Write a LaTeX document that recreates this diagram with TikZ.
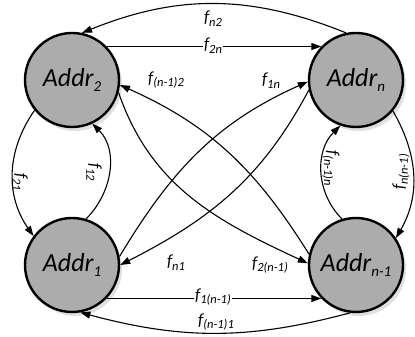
\documentclass[tikz,border=0pt]{standalone}
\usepackage{fontspec}
\setmainfont{Carlito}
\usetikzlibrary{arrows.meta,shadows}
\newcommand\asub[1]{\raisebox{-0.45ex}{\fontsize{15}{15}\selectfont #1}}
\newcommand\lsub[1]{\raisebox{-0.45ex}{\fontsize{12.5}{12.5}\selectfont #1}}
\tikzset{
  addr/.style={circle, draw=black, line width=2.4pt,
    fill={rgb,255:red,172;green,172;blue,172}, minimum size=94pt, inner sep=0pt,
    font=\fontsize{26}{26}\selectfont\itshape,
    drop shadow={shadow xshift=3pt, shadow yshift=-4pt, fill=gray!30, opacity=0.8}},
  conn/.style={line width=1.1pt, -{Triangle[length=10pt,width=7pt]}},
  lbl/.style={font=\fontsize{17}{17}\selectfont\itshape, inner sep=1pt},
  lblw/.style={lbl, fill=white},
}
\begin{document}
\begin{tikzpicture}[x=1pt,y=1pt]
\useasboundingbox[fill=white] (0,0) rectangle (415,337);
\node[addr] (A2) at (72,257) {Addr\asub{2}};
\node[addr] (An) at (356,257) {Addr\asub{n}};
\node[addr] (A1) at (72,72) {Addr\asub{1}};
\node[addr] (Am) at (356,72) {Addr\asub{n-1}};
% top / bottom
\draw[conn] (An.102) to[out=158,in=22] (A2.78);
\draw[conn] (A2.44) -- (An.136);
\draw[conn] (A1.-44) -- (Am.-136);
\draw[conn] (Am.-97) to[out=195,in=-15] (A1.-80);
% diagonals
\draw[conn] (Am.167) to[out=122,in=-24] (A2.-6);
\draw[conn] (A2.-15) to[out=-71,in=155] (Am.178);
\draw[conn] (A1.10) to[out=59,in=-156] (An.182);
\draw[conn] (An.192) to[out=242,in=27] (A1.0);
% sides
\draw[conn] (A2.219) to[out=235,in=125] (A1.143);
\draw[conn] (A1.73) to[out=45,in=-45] (A2.-65);
\draw[conn] (An.-40) to[out=-60,in=60] (Am.34);
\draw[conn] (Am.107) to[out=135,in=-135] (An.-109);
% labels
\node[lbl] (lfn2) at (213,318) {f\lsub{n2}};
\node[lblw] (lf2n) at (213,291) {f\lsub{2n}};
\node[lbl] (lfm2) at (166,257) {f\lsub{(n-1)2}};
\node[lbl] (lf1n) at (271,256) {f\lsub{1n}};
\node[lbl] (lfn1) at (176,74) {f\lsub{n1}};
\node[lbl] (lf2m) at (270,72) {f\lsub{2(n-1)}};
\node[lblw] (lf1m) at (213,40) {f\lsub{1(n-1)}};
\node[lblw] (lfm1) at (216,15) {f\lsub{(n-1)1}};
\node[lbl, rotate=-90] (lf21) at (20,155) {f\lsub{21}};
\node[lbl, rotate=-90] (lf12) at (94,165) {f\lsub{12}};
\node[lbl, rotate=-90] (lfmn) at (331,169) {f\lsub{(n-1)n}};
\node[lbl, rotate=90] (lfnm) at (401,165) {f\lsub{n(n-1)}};
\end{tikzpicture}
\end{document}
